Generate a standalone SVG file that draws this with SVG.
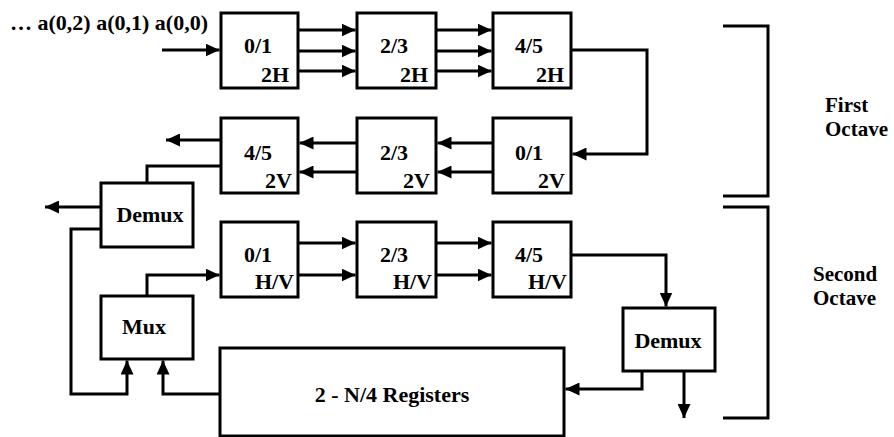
<svg xmlns="http://www.w3.org/2000/svg" width="894" height="437" viewBox="0 0 894 437">
<style>
.box{fill:#fff;stroke:#000;stroke-width:3}
.t{font-family:"Liberation Serif","Times New Roman",Times,serif;font-weight:bold;font-size:22px;fill:#000}
.s{font-size:21px}
.m{text-anchor:middle}
.e{text-anchor:end}
.c{fill:none;stroke:#000;stroke-width:3}
.a{marker-end:url(#ah)}
</style>
<defs>
<marker id="ah" markerUnits="userSpaceOnUse" markerWidth="14" markerHeight="13" refX="14" refY="6.5" orient="auto">
<path d="M0,0 L14,6.5 L0,13 z" fill="#000"/>
</marker>
</defs>
<rect width="894" height="437" fill="#fff"/>
<text class="t" x="10" y="30">… a(0,2) a(0,1) a(0,0)</text>
<g id="connectors">
<path class="c a" d="M162,50 H219.5"/>
<path class="c a" d="M298,30 H355.5"/>
<path class="c a" d="M298,51 H355.5"/>
<path class="c a" d="M298,71 H355.5"/>
<path class="c a" d="M436,30 H491.5"/>
<path class="c a" d="M436,51 H491.5"/>
<path class="c a" d="M436,71 H491.5"/>
<path class="c a" d="M571,50 H647 V154 H572.5"/>
<path class="c a" d="M493,143 H437.5"/>
<path class="c a" d="M493,172 H437.5"/>
<path class="c a" d="M357,143 H299.5"/>
<path class="c a" d="M357,172 H299.5"/>
<path class="c a" d="M221,140 H166"/>
<path class="c" d="M221,166 H147 V183"/>
<path class="c a" d="M101,207 H45"/>
<path class="c a" d="M101,229 H71 V394 H127 V360.5"/>
<path class="c a" d="M220,394 H163 V360.5"/>
<path class="c a" d="M147,296 V275 H219.5"/>
<path class="c a" d="M298,243 H355.5"/>
<path class="c a" d="M298,275 H355.5"/>
<path class="c a" d="M436,243 H491.5"/>
<path class="c a" d="M436,275 H491.5"/>
<path class="c a" d="M571,255 H666 V306.5"/>
<path class="c a" d="M642,371 V389 H565.5"/>
<path class="c a" d="M684,371 V418"/>
<path class="c" d="M723,26 H768 V196 H723"/>
<path class="c" d="M723,207 H768 V418 H723"/>
</g>
<g id="n1"><rect class="box" x="221" y="13" width="77" height="75"/><text class="t" x="244" y="53">0/1</text><text class="t e" x="289" y="82">2H</text></g>
<g id="n2"><rect class="box" x="357" y="13" width="79" height="75"/><text class="t" x="380" y="53">2/3</text><text class="t e" x="428" y="82">2H</text></g>
<g id="n3"><rect class="box" x="493" y="13" width="78" height="75"/><text class="t" x="515" y="53">4/5</text><text class="t e" x="564" y="82">2H</text></g>
<g id="n4"><rect class="box" x="221" y="118" width="77" height="75"/><text class="t" x="244" y="160">4/5</text><text class="t e" x="292" y="188">2V</text></g>
<g id="n5"><rect class="box" x="357" y="118" width="79" height="75"/><text class="t" x="380" y="160">2/3</text><text class="t e" x="430" y="188">2V</text></g>
<g id="n6"><rect class="box" x="493" y="118" width="78" height="75"/><text class="t" x="515" y="160">0/1</text><text class="t e" x="565" y="188">2V</text></g>
<g id="n7"><rect class="box" x="221" y="222" width="77" height="75"/><text class="t" x="244" y="262">0/1</text><text class="t e" x="294" y="289">H/V</text></g>
<g id="n8"><rect class="box" x="357" y="222" width="79" height="75"/><text class="t" x="380" y="262">2/3</text><text class="t e" x="432" y="289">H/V</text></g>
<g id="n9"><rect class="box" x="493" y="222" width="78" height="75"/><text class="t" x="515" y="262">4/5</text><text class="t e" x="567" y="289">H/V</text></g>
<g id="demux1"><rect class="box" x="101" y="183" width="92" height="64"/><text class="t m" x="150" y="222">Demux</text></g>
<g id="mux"><rect class="box" x="101" y="296" width="92" height="63"/><text class="t m" x="144" y="334">Mux</text></g>
<g id="registers"><rect class="box" x="220" y="348" width="344" height="88"/><text class="t m" x="392" y="402">2 - N/4 Registers</text></g>
<g id="demux2"><rect class="box" x="623" y="308" width="92" height="63"/><text class="t m" x="668" y="348">Demux</text></g>
<text class="t s" x="825" y="112">First</text>
<text class="t s" x="825" y="136">Octave</text>
<text class="t s" x="813" y="281">Second</text>
<text class="t s" x="813" y="305">Octave</text>
</svg>
